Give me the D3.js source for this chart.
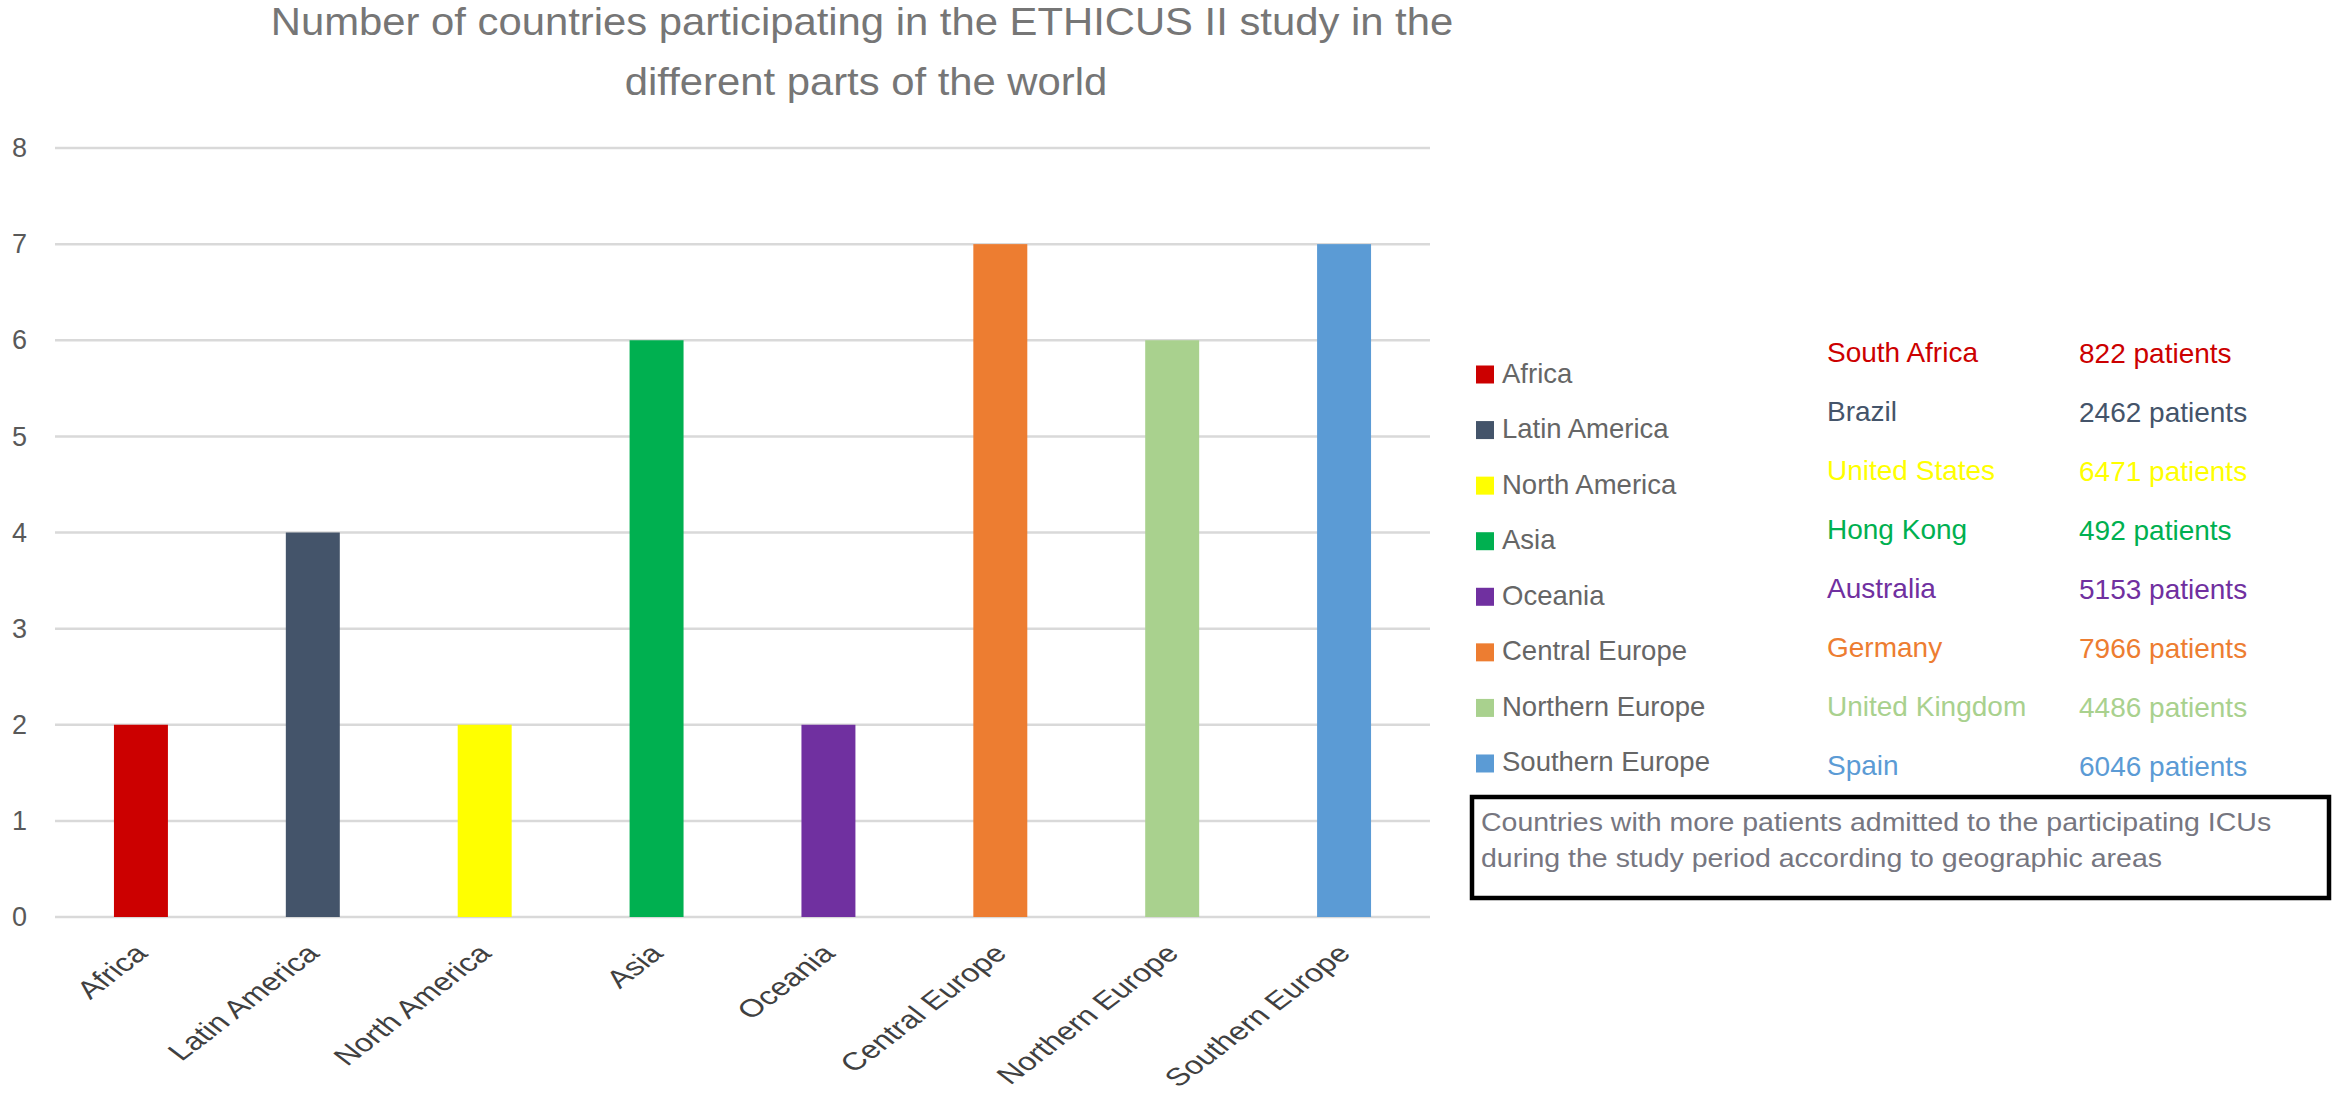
<!DOCTYPE html>
<html><head><meta charset="utf-8">
<script src="https://cdn.jsdelivr.net/npm/d3@7"></script>
<style>html,body{margin:0;padding:0;background:#fff;}svg{display:block;font-family:"Liberation Sans",Arial,sans-serif;}</style>
</head><body>
<svg id="chart" width="2346" height="1098"></svg>
<script>
const regions = ["Africa","Latin America","North America","Asia","Oceania","Central Europe","Northern Europe","Southern Europe"];
const countryCounts = [2,4,2,6,2,7,6,7];
const regionColors = ["#CC0000","#44546A","#FFFF00","#00B050","#7030A0","#ED7D31","#A9D18E","#5B9BD5"];
const topCountries = ["South Africa","Brazil","United States","Hong Kong","Australia","Germany","United Kingdom","Spain"];
const patientCounts = [822,2462,6471,492,5153,7966,4486,6046];
const yTicks = [0,1,2,3,4,5,6,7,8];
const titleLines = ["Number of countries participating in the ETHICUS II study in the","different parts of the world"];
const noteLines = ["Countries with more patients admitted to the participating ICUs","during the study period according to geographic areas"];

const svg = d3.select("#chart");
svg.append("rect").attr("width",2346).attr("height",1098).attr("fill","#fff");

const pIn = 0.686;
const x = d3.scaleBand().domain(regions).range([55,1430]).paddingInner(pIn).paddingOuter(pIn/2);
const y = d3.scaleLinear().domain([0,8]).range([917,148]);

// gridlines
svg.append("g").selectAll("line").data(yTicks).join("line")
  .attr("x1",55).attr("x2",1430)
  .attr("y1",d=>y(d)).attr("y2",d=>y(d))
  .attr("stroke","#d9d9d9").attr("stroke-width",2.5);

// y labels
const yAxis = d3.axisLeft(y).tickValues(yTicks).tickSize(0).tickPadding(0);
const gy = svg.append("g").attr("transform","translate(27,0)").call(yAxis);
gy.select(".domain").remove();
gy.selectAll("text").attr("font-size",27).attr("fill","#595959")
  .attr("font-family","'Liberation Sans',Arial,sans-serif");

// bars
svg.append("g").selectAll("rect").data(regions).join("rect")
  .attr("x",d=>x(d)).attr("width",x.bandwidth())
  .attr("y",(d,i)=>y(countryCounts[i])).attr("height",(d,i)=>y(0)-y(countryCounts[i]))
  .attr("fill",(d,i)=>regionColors[i]);

// x labels
const xAxis = d3.axisBottom(x).tickSize(0).tickPadding(0);
const gx = svg.append("g").call(xAxis);
gx.select(".domain").remove();
gx.selectAll(".tick").attr("transform",d=>`translate(${x(d)+x.bandwidth()/2+8},955)`);
gx.selectAll("text").attr("font-size",25).attr("fill","#404040")
  .attr("font-family","'Liberation Sans',Arial,sans-serif")
  .attr("text-anchor","end").attr("dy",0).attr("y",0)
  .attr("transform","scale(1.3,1) rotate(-45)");

// title
svg.append("g").selectAll("g").data(titleLines).join("g")
  .attr("transform",(d,i)=>`translate(${i===0?862:866},${35+i*60}) scale(1.1,1)`)
  .append("text")
  .attr("text-anchor","middle").attr("font-size",38).attr("fill","#767676")
  .text(d=>d);

// legend
const lg = svg.append("g");
regions.forEach((r,i)=>{
  const cy = 374.5 + i*55.57;
  lg.append("rect").attr("x",1476).attr("y",cy-9).attr("width",18).attr("height",18).attr("fill",regionColors[i]);
  lg.append("text").attr("x",1502).attr("y",cy+8).attr("font-size",27.5).attr("fill","#666666").text(r);
});

// countries and patients
const cg = svg.append("g");
topCountries.forEach((c,i)=>{
  cg.append("text").attr("x",1827).attr("y",362+i*59).attr("font-size",28).attr("fill",regionColors[i]).text(c);
  cg.append("text").attr("x",2079).attr("y",363+i*59).attr("font-size",28).attr("fill",regionColors[i]).text(patientCounts[i]+" patients");
});

// note box
svg.append("rect").attr("x",1472).attr("y",797).attr("width",857).attr("height",101)
  .attr("fill","#fff").attr("stroke","#000").attr("stroke-width",4.5);
svg.append("g").selectAll("g").data(noteLines).join("g")
  .attr("transform",(d,i)=>`translate(1481,${831+i*36}) scale(1.14,1)`)
  .append("text").attr("font-size",25).attr("fill","#767680")
  .text(d=>d);
</script>
</body></html>
